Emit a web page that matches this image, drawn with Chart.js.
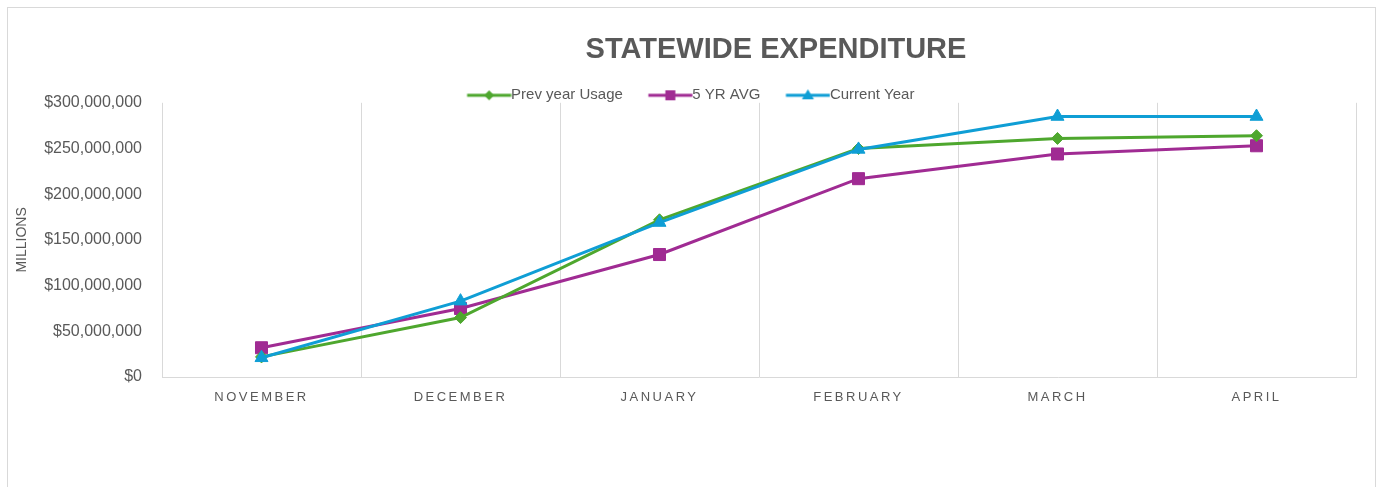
<!DOCTYPE html>
<html>
<head>
<meta charset="utf-8">
<script src="https://cdn.jsdelivr.net/npm/chart.js@4.4.1/dist/chart.umd.min.js"></script>
<style>
  html, body { margin: 0; padding: 0; background: #fff; }
  #frame { position: absolute; left: 7px; top: 7px; width: 1369px; height: 490px; border: 1px solid #d9d9d9; box-sizing: border-box; }
  #wrap { position: absolute; left: 0; top: 0; width: 1382px; height: 487px; }
</style>
</head>
<body>
<div id="frame"></div>
<div id="wrap"><canvas id="myChart"></canvas></div>
<script>
// values
const months = ['NOVEMBER', 'DECEMBER', 'JANUARY', 'FEBRUARY', 'MARCH', 'APRIL'];
const prevYearUsage = [22e6, 65e6, 172e6, 250e6, 261e6, 264e6];
const fiveYrAvg = [32e6, 75e6, 134e6, 217e6, 244e6, 253e6];
const currentYear = [21e6, 83e6, 169e6, 249e6, 285e6, 285e6];
const yMax = 300e6;
const yStep = 50e6;

const GREEN = '#4ea72e';
const PURPLE = '#a02b93';
const BLUE = '#0f9ed5';
const TEXT = '#595959';
const GRID = '#d9d9d9';

// category axis that draws its labels with letter spacing
class SpacedCategoryScale extends Chart.CategoryScale {
    drawLabels(area) {
        const ctx = this.ctx;
        ctx.save();
        ctx.letterSpacing = '2.5px';
        super.drawLabels(area);
        ctx.restore();
    }
}
SpacedCategoryScale.id = 'spacedCategory';
SpacedCategoryScale.defaults = Chart.CategoryScale.defaults;
Chart.register(SpacedCategoryScale);

// legend icon: short line with the marker in the middle
function legendIcon(color, shape) {
    const c = document.createElement('canvas');
    c.width = 68;
    c.height = 16;
    const g = c.getContext('2d');
    g.strokeStyle = color;
    g.fillStyle = color;
    g.lineWidth = 3;
    g.beginPath();
    g.moveTo(23.5, 8);
    g.lineTo(67.5, 8);
    g.stroke();
    const cx = 45.5, cy = 8;
    g.beginPath();
    if (shape === 'diamond') {
        g.moveTo(cx, cy - 5); g.lineTo(cx + 5, cy); g.lineTo(cx, cy + 5); g.lineTo(cx - 5, cy);
    } else if (shape === 'square') {
        g.rect(cx - 5, cy - 5, 10, 10);
    } else {
        g.moveTo(cx, cy - 6); g.lineTo(cx + 6, cy + 4); g.lineTo(cx - 6, cy + 4);
    }
    g.closePath();
    g.fill();
    return c;
}
const legendIcons = [legendIcon(GREEN, 'diamond'), legendIcon(PURPLE, 'square'), legendIcon(BLUE, 'triangle')];

const shiftTitle = {
    id: 'shiftTitle',
    afterLayout(chart) {
        chart.titleBlock.left += 93;
        chart.titleBlock.right += 93;
    }
};

const ctx = document.getElementById('myChart').getContext('2d');

const data = {
    labels: months,
    datasets: [{
        label: 'Prev year Usage',
        data: prevYearUsage,
        borderColor: GREEN,
        backgroundColor: GREEN,
        pointStyle: 'rectRot',
        pointRadius: 6,
        order: 1
    }, {
        label: '5 YR AVG',
        data: fiveYrAvg,
        borderColor: PURPLE,
        backgroundColor: PURPLE,
        pointStyle: 'rect',
        pointRadius: 8.5,
        order: 2
    }, {
        label: 'Current Year',
        data: currentYear,
        borderColor: BLUE,
        backgroundColor: BLUE,
        pointStyle: 'triangle',
        pointRadius: 7.5,
        order: 0
    }]
};

const config = {
    type: 'line',
    data: data,
    options: {
        responsive: true,
        maintainAspectRatio: false,
        animation: false,
        font: { family: '"Liberation Sans", Arial, sans-serif' },
        datasets: {
            line: { borderWidth: 3, tension: 0, pointBorderWidth: 1, pointHoverRadius: 8 }
        },
        layout: { padding: { left: 10, right: 26, top: 0, bottom: 70 } },
        plugins: {
            title: {
                display: true,
                text: 'STATEWIDE EXPENDITURE',
                color: TEXT,
                font: { size: 29, weight: 'bold' },
                padding: { top: 33, bottom: 10 }
            },
            legend: {
                display: true,
                maxHeight: 25,
                labels: {
                    color: TEXT,
                    font: { size: 15 },
                    usePointStyle: true,
                    pointStyleWidth: 52,
                    padding: 10,
                    generateLabels: (chart) => {
                        const items = Chart.defaults.plugins.legend.labels.generateLabels(chart);
                        items.sort((a, b) => a.datasetIndex - b.datasetIndex);
                        items.forEach((it) => { it.pointStyle = legendIcons[it.datasetIndex]; });
                        return items;
                    }
                }
            },
            tooltip: { enabled: false }
        },
        scales: {
            x: {
                type: 'spacedCategory',
                offset: true,
                grid: { display: true, offset: true, color: GRID, drawTicks: false },
                border: { display: true, color: GRID },
                ticks: { color: TEXT, font: { size: 13 }, padding: 13, maxRotation: 0 },
                afterFit: (s) => { s.height = 40; }
            },
            y: {
                min: 0,
                max: yMax,
                ticks: {
                    stepSize: yStep,
                    padding: 20,
                    color: TEXT,
                    font: { size: 16 },
                    callback: (v) => '$' + v.toLocaleString('en-US')
                },
                grid: { display: false, drawTicks: false },
                border: { display: false },
                title: { display: true, text: 'MILLIONS', color: TEXT, font: { size: 14 }, padding: { top: 4, bottom: 0 } },
                afterFit: (s) => { s.width = 152; }
            }
        }
    },
    plugins: [shiftTitle]
};

const myChart = new Chart(ctx, config);
</script>
</body>
</html>
